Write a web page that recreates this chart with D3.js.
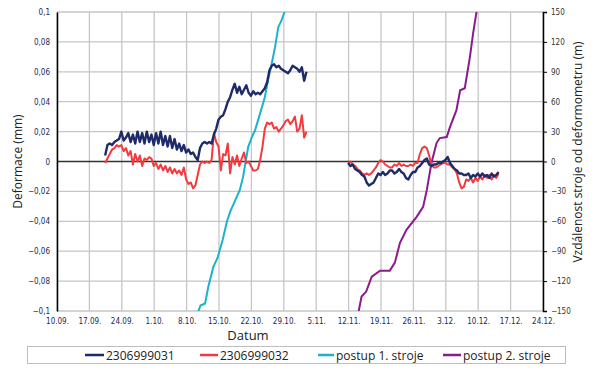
<html>
<head>
<meta charset="utf-8">
<script src="https://d3js.org/d3.v7.min.js"></script>
<style>
body { margin: 0; background: #fff; }
text { font-family: "Open Sans", "DejaVu Sans", sans-serif; }
.tick text { font-family: "Liberation Sans Narrow", "DejaVu Sans Condensed", sans-serif; font-size: 8px; }
</style>
</head>
<body>
<div id="chart"></div>
<script>
// tick labels
var xTickLabels = ["10.09.", "17.09.", "24.09.", "1.10.", "8.10.", "15.10.", "22.10.", "29.10.",
                   "5.11.", "12.11.", "19.11.", "26.11.", "3.12.", "10.12.", "17.12.", "24.12."];
var leftTicks = [-0.1, -0.08, -0.06, -0.04, -0.02, 0, 0.02, 0.04, 0.06, 0.08, 0.1];
var rightTicks = [-150, -120, -90, -60, -30, 0, 30, 60, 90, 120, 150];

// deformometer readings (mm), sampled every half day; day = days after 10.09.
var sampleStep = 0.5;
var part1Start = 10.4;
var part2Start = 62.9;

var s031a = [0.004, 0.011, 0.012, 0.011, 0.013, 0.014, 0.015, 0.020, 0.014, 0.016,
             0.019, 0.013, 0.018, 0.012, 0.020, 0.013, 0.019, 0.012, 0.020, 0.013,
             0.018, 0.011, 0.019, 0.012, 0.020, 0.011, 0.017, 0.010, 0.017, 0.009,
             0.015, 0.008, 0.012, 0.007, 0.011, 0.006, 0.008, 0.005, 0.006, 0.003,
             0.001, 0.009, 0.012, 0.013, 0.012, 0.013, 0.012, 0.018, 0.022, 0.028,
             0.030, 0.031, 0.035, 0.040, 0.043, 0.048, 0.052, 0.046, 0.050, 0.045,
             0.048, 0.051, 0.046, 0.044, 0.047, 0.045, 0.046, 0.045, 0.047, 0.049,
             0.053, 0.061, 0.064, 0.065, 0.063, 0.064, 0.062, 0.061, 0.060, 0.059,
             0.061, 0.064, 0.063, 0.062, 0.060, 0.063, 0.054, 0.060];
var s031b = [-0.001, -0.003, -0.002, -0.005, -0.006, -0.007, -0.009, -0.010, -0.014, -0.016,
             -0.015, -0.014, -0.011, -0.008, -0.009, -0.007, -0.009, -0.008, -0.006, -0.006,
             -0.008, -0.007, -0.005, -0.007, -0.008, -0.011, -0.012, -0.009, -0.007, -0.007,
             -0.004, -0.003, -0.001, 0.001, 0.002, -0.002, -0.003, -0.002, -0.002, -0.001,
             -0.001, 0.000, 0.001, 0.003, -0.001, -0.003, -0.005, -0.006, -0.008, -0.008,
             -0.009, -0.009, -0.008, -0.011, -0.009, -0.010, -0.008, -0.010, -0.008, -0.010,
             -0.009, -0.011, -0.008, -0.010, -0.009, -0.007];

var s032a = [-0.001, 0.002, 0.005, 0.008, 0.009, 0.011, 0.010, 0.011, 0.007, 0.009,
             0.004, 0.007, -0.002, 0.005, 0.000, 0.004, -0.003, 0.002, 0.001, 0.003,
             0.002, -0.003, -0.001, -0.005, -0.002, -0.006, -0.003, -0.007, -0.004, -0.008,
             -0.005, -0.008, -0.006, -0.009, -0.004, -0.012, -0.015, -0.014, -0.018, -0.016,
             -0.009, -0.002, 0.000, -0.001, 0.000, -0.001, 0.001, 0.019, 0.013, 0.010,
             -0.006, 0.005, 0.004, 0.012, -0.008, 0.003, -0.002, 0.004, -0.003, 0.002,
             0.006, -0.001, 0.000, -0.003, -0.006, -0.006, -0.005, 0.001, 0.010, 0.022,
             0.026, 0.025, 0.026, 0.022, 0.023, 0.020, 0.022, 0.024, 0.027, 0.028,
             0.025, 0.027, 0.030, 0.020, 0.022, 0.031, 0.016, 0.020];
var s032b = [-0.001, 0.000, -0.002, -0.003, -0.005, -0.006, -0.008, -0.009, -0.008, -0.009,
             -0.008, -0.006, -0.004, -0.001, 0.001, 0.000, -0.002, -0.003, -0.004, -0.004,
             -0.002, -0.003, -0.001, -0.003, -0.002, -0.003, -0.003, -0.002, -0.003, -0.001,
             -0.001, 0.005, 0.009, 0.010, 0.009, 0.004, -0.002, -0.004, -0.004, -0.003,
             -0.002, -0.001, -0.001, -0.002, -0.002, -0.004, -0.005, -0.008, -0.014, -0.018,
             -0.017, -0.012, -0.013, -0.011, -0.014, -0.011, -0.013, -0.010, -0.012, -0.009,
             -0.011, -0.009, -0.012, -0.009, -0.011, -0.008];

// machine advance (m): [day after 10.09., distance]
var postup1 = [[30.4, -152], [31.0, -144.5], [32.0, -142.5], [32.7, -125.5], [33.8, -105.5],
               [34.7, -96.5], [35.8, -78.5], [36.7, -60.5], [37.4, -50.5], [39.5, -28.5],
               [40.2, -15.5], [41.3, 14.5], [42.1, 24.5], [42.8, 31.5], [43.9, 48.5],
               [44.9, 64.5], [45.6, 81.5], [46.4, 98.5], [47.1, 114.5], [47.8, 134.5],
               [48.5, 141.5], [49.3, 152]];
var postup2 = [[65.1, -152], [65.8, -135.5], [66.8, -130.5], [68.0, -115.5], [69.8, -109.5],
               [71.9, -109.5], [73.0, -101.5], [74.1, -81.5], [75.5, -68.5], [77.7, -55.5],
               [79.1, -45.5], [79.9, -28.5], [80.9, -1.5], [82.0, 18.5], [82.7, 23.5],
               [84.2, 24.5], [84.9, 34.5], [86.3, 51.5], [87.1, 71.5], [88.1, 73.5],
               [89.2, 104.5], [89.9, 128.5], [90.7, 152]];

var legendNames = ["2306999031", "2306999032", "postup 1. stroje", "postup 2. stroje"];
var colors = ["#1f2a68", "#f23a3f", "#1bb3cb", "#8a1a8e"];

var W = 600, H = 376;
var pLeft = 57, pRight = 543, pTop = 12, pBottom = 311;

function parseLabel(s) {
  var p = s.split(".");
  return new Date(Date.UTC(2012, +p[1] - 1, +p[0]));
}
var day0 = parseLabel(xTickLabels[0]);
function dayToDate(d) { return new Date(day0.getTime() + d * 864e5); }

var xDates = xTickLabels.map(parseLabel);
var x = d3.scaleUtc().domain([xDates[0], xDates[xDates.length - 1]]).range([pLeft, pRight]);
var yL = d3.scaleLinear().domain([-0.1, 0.1]).range([pBottom, pTop]);
var yR = d3.scaleLinear().domain([-150, 150]).range([pBottom, pTop]);

var svg = d3.select("#chart").append("svg").attr("width", W).attr("height", H);
svg.append("rect").attr("width", W).attr("height", H).attr("fill", "#fff");

svg.append("clipPath").attr("id", "plotclip").append("rect")
  .attr("x", pLeft).attr("y", pTop).attr("width", pRight - pLeft).attr("height", pBottom - pTop);

// grid
svg.append("g").selectAll("line").data(xDates).enter().append("line")
  .attr("x1", d => x(d)).attr("x2", d => x(d)).attr("y1", pTop).attr("y2", pBottom)
  .attr("stroke", "#c6c6c6").attr("stroke-width", 1.3);
svg.append("g").selectAll("line").data(leftTicks).enter().append("line")
  .attr("x1", pLeft).attr("x2", pRight).attr("y1", d => yL(d)).attr("y2", d => yL(d))
  .attr("stroke", d => d === 0 ? "#333" : "#c6c6c6").attr("stroke-width", 1.3);

// axes
var la = svg.append("g").attr("transform", "translate(" + pLeft + ",0)")
  .call(d3.axisLeft(yL).tickValues(leftTicks).tickSize(0).tickPadding(7)
        .tickFormat(d => d === 0 ? "0" : d3.format("~g")(d).replace(".", ",")));
la.select(".domain").attr("stroke", "#000").attr("stroke-width", 1.5);
la.selectAll("text").attr("fill", "#1d2757");

var ra = svg.append("g").attr("transform", "translate(" + pRight + ",0)")
  .call(d3.axisRight(yR).tickValues(rightTicks).tickSize(4).tickPadding(4));
ra.select(".domain").attr("stroke", "#000").attr("stroke-width", 1.5);
ra.selectAll("text").attr("fill", "#333");

var ba = svg.append("g").attr("transform", "translate(0," + pBottom + ")")
  .call(d3.axisBottom(x).tickValues(xDates).tickSize(0).tickPadding(7)
        .tickFormat((d, i) => xTickLabels[i]));
ba.select(".domain").remove();
ba.selectAll("text").attr("fill", "#1d2757");

// series
var plot = svg.append("g").attr("clip-path", "url(#plotclip)");
var lineDef = d3.line().x(d => x(dayToDate(d[0]))).y(d => yL(d[1]));
var lineDist = d3.line().x(d => x(dayToDate(d[0]))).y(d => yR(d[1]));
function withDays(vals, start) { return vals.map((v, i) => [start + i * sampleStep, v]); }

plot.append("path").datum(postup1).attr("d", lineDist)
  .attr("fill", "none").attr("stroke", colors[2]).attr("stroke-width", 2);
plot.append("path").datum(postup2).attr("d", lineDist)
  .attr("fill", "none").attr("stroke", colors[3]).attr("stroke-width", 2);

[[s032a, part1Start], [s032b, part2Start]].forEach(function (s) {
  plot.append("path").datum(withDays(s[0], s[1])).attr("d", lineDef)
    .attr("fill", "none").attr("stroke", colors[1]).attr("stroke-width", 2)
    .attr("stroke-linejoin", "round");
});
[[s031a, part1Start], [s031b, part2Start]].forEach(function (s) {
  plot.append("path").datum(withDays(s[0], s[1])).attr("d", lineDef)
    .attr("fill", "none").attr("stroke", colors[0]).attr("stroke-width", 2.4)
    .attr("stroke-linejoin", "round");
});

// titles
svg.append("text").attr("transform", "translate(22," + ((pTop + pBottom) / 2) + ") rotate(-90)")
  .attr("text-anchor", "middle").attr("font-size", 12).attr("fill", "#222").text("Deformace (mm)");
svg.append("text").attr("transform", "translate(582,152) rotate(-90)")
  .attr("text-anchor", "middle").attr("font-size", 12).attr("fill", "#222")
  .text("Vzdálenost stroje od deformometru (m)");
svg.append("text").attr("x", 248).attr("y", 340).attr("text-anchor", "middle")
  .attr("font-size", 13).attr("fill", "#222").text("Datum");

// legend
var lg = svg.append("g");
lg.append("rect").attr("x", 27.5).attr("y", 346.5).attr("width", 538).attr("height", 17)
  .attr("fill", "#fff").attr("stroke", "#bdbdbd");
var legX = [85, 200, 318, 443];
var legW = [19, 18, 16, 18];
legendNames.forEach(function (n, i) {
  lg.append("line").attr("x1", legX[i]).attr("x2", legX[i] + legW[i]).attr("y1", 355).attr("y2", 355)
    .attr("stroke", colors[i]).attr("stroke-width", 2.5);
  lg.append("text").attr("x", legX[i] + legW[i] + 2).attr("y", 359.5)
    .attr("font-size", 12).attr("fill", "#222").text(n);
});
</script>
</body>
</html>
